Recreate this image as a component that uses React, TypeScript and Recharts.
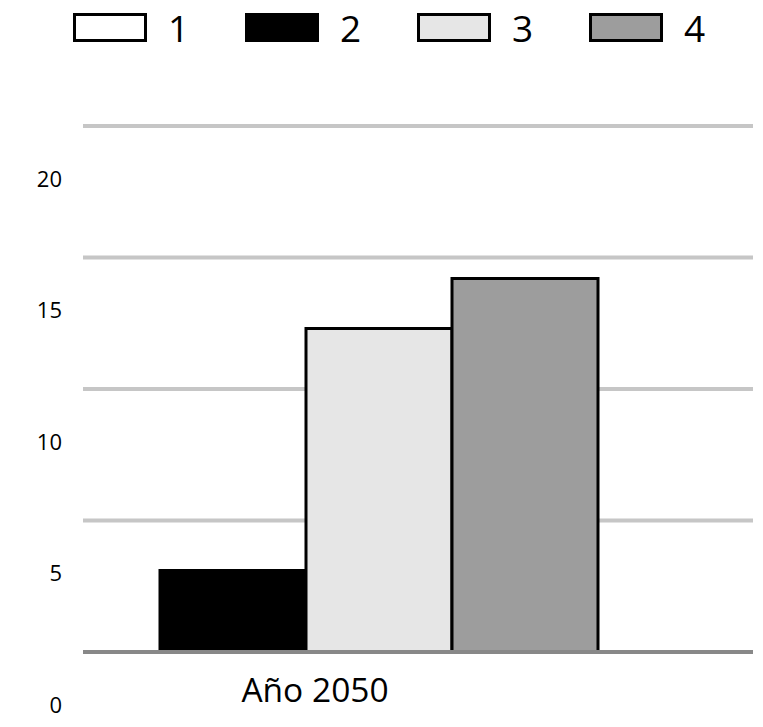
import React from "react";
import { BarChart, Bar, XAxis, YAxis, CartesianGrid, Legend } from "recharts";

const categories = ["Año 2050"];
const series1 = [0];
const series2 = [3.1];
const series3 = [12.3];
const series4 = [14.2];
const seriesNames = ["1", "2", "3", "4"];
const seriesKeys = ["s1", "s2", "s3", "s4"];
const seriesColors = ["#ffffff", "#000000", "#e6e6e6", "#9d9d9d"];
const yTicks = [0, 5, 10, 15, 20];

const data = categories.map((c, i) => ({
  name: c,
  s1: series1[i],
  s2: series2[i],
  s3: series3[i],
  s4: series4[i],
}));

const FONT = "'Open Sans', 'Noto Sans', sans-serif";

function LegendContent(props: any) {
  const payload: any[] =
    props && props.payload && props.payload.length
      ? props.payload
      : seriesNames.map((n, i) => ({ value: n, color: seriesColors[i] }));
  return (
    <div style={{ height: 118, fontFamily: FONT }}>
      <div style={{ display: "flex", paddingLeft: 65, paddingTop: 5 }}>
        {payload.map((p: any, i: number) => (
          <div
            key={String(p.value) + i}
            style={{ width: 172, display: "flex", alignItems: "center", height: 29 }}
          >
            <div
              style={{
                width: 74,
                height: 29,
                boxSizing: "border-box",
                border: "3px solid #000",
                background: p.color,
              }}
            />
            <span style={{ marginLeft: 21, fontSize: 37, lineHeight: "29px", color: "#000" }}>
              {p.value}
            </span>
          </div>
        ))}
      </div>
    </div>
  );
}

function XTick(props: any) {
  const { x, y, payload } = props;
  return (
    <text x={x + 9} y={y + 50} textAnchor="middle" fontSize={33.5} fontFamily={FONT} fill="#000">
      {payload.value}
    </text>
  );
}

function YTick(props: any) {
  const { x, y, payload } = props;
  return (
    <text x={x} y={y + 53} dy="0.355em" textAnchor="end" fontSize={22} fontFamily={FONT} fill="#000">
      {payload.value}
    </text>
  );
}

export default function App() {
  return (
    <BarChart
      width={755}
      height={719}
      data={data}
      margin={{ top: 0, right: 10, bottom: 0, left: 0 }}
      barGap={0}
      barCategoryGap={0}
    >
      <Legend
        verticalAlign="top"
        align="left"
        content={(p: any) => <LegendContent {...p} />}
        wrapperStyle={{ top: 0, left: 0, width: 755, height: 118 }}
      />
      <CartesianGrid vertical={false} stroke="#c6c6c6" strokeWidth={4} />
      <YAxis
        domain={[0, 20]}
        ticks={yTicks}
        axisLine={false}
        tickLine={false}
        tickSize={0}
        tickMargin={21}
        width={75}
        tick={YTick}
        interval={0}
      />
      {seriesKeys.map((k, i) => (
        <Bar
          key={k}
          dataKey={k}
          name={seriesNames[i]}
          fill={seriesColors[i]}
          stroke="#000"
          strokeWidth={3}
          barSize={146}
          isAnimationActive={false}
        />
      ))}
      <XAxis
        dataKey="name"
        padding={{ left: -77, right: 147 }}
        axisLine={{ stroke: "#888888", strokeWidth: 4 }}
        tickLine={false}
        tickSize={0}
        tickMargin={0}
        height={75}
        interval={0}
        tick={XTick}
      />
    </BarChart>
  );
}
